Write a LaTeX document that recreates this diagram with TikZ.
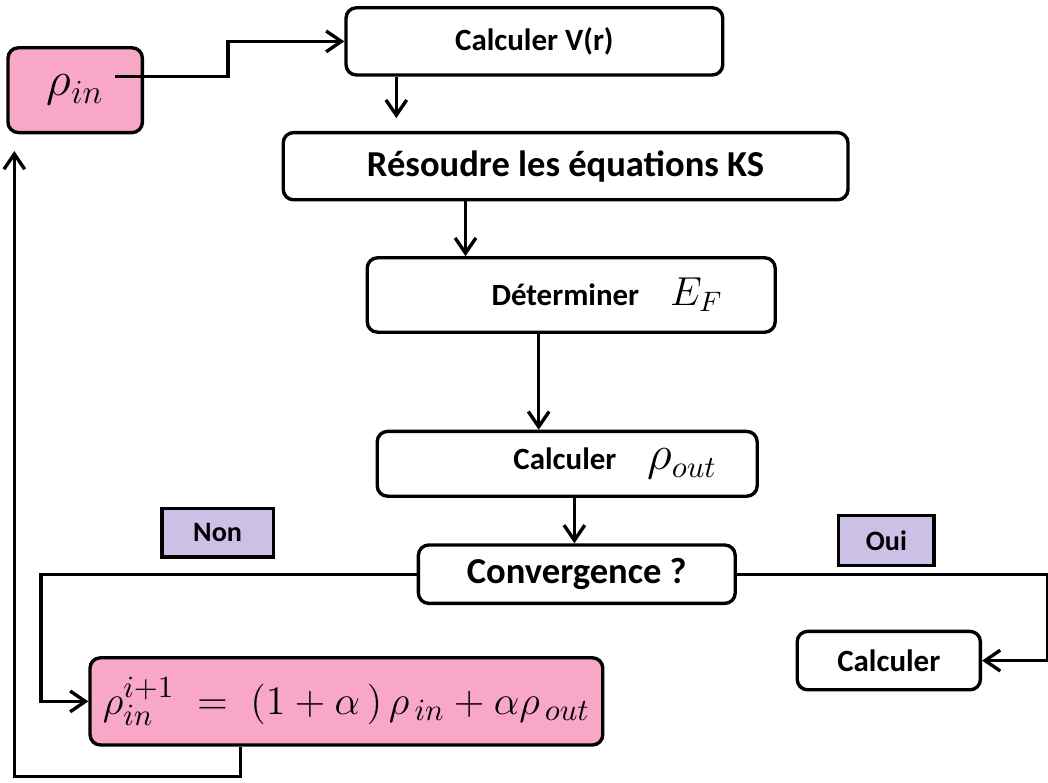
\documentclass[tikz,border=0pt]{standalone}
\usepackage{fontspec}
\setmainfont{Carlito}
\usetikzlibrary{arrows.meta}
\definecolor{pinkfill}{RGB}{248,168,198}
\definecolor{lilac}{RGB}{204,192,230}
\tikzset{
    process/.style = {rectangle, rounded corners=0.13cm, draw=black, line width=1.2pt, fill=white, text centered, inner sep=0pt, font=\bfseries\fontsize{11}{13}\selectfont},
    formula/.style = {process, fill=pinkfill, font=\fontsize{15}{18}\selectfont},
    answer/.style = {rectangle, draw=black, line width=1.2pt, fill=lilac, inner sep=0pt, font=\bfseries\fontsize{10}{12}\selectfont},
    arrow/.style = {line width=1.2pt, -{Straight Barb[length=1.9mm, width=2.6mm]}}
}

\begin{document}
\begin{tikzpicture}
    \useasboundingbox (0, 0) rectangle (13.1, 9.7875);

    \node (rhoin) [formula, minimum width=1.68cm, minimum height=1.06cm, font=\fontsize{17}{20}\selectfont] at (0.94, 8.66) {$\rho_{in}$};
    \node (calcv) [process, minimum width=4.71cm, minimum height=0.84cm] at (6.68, 9.27) {Calculer V(r)};
    \node (resoudre) [process, minimum width=7.06cm, minimum height=0.84cm, font=\bfseries\fontsize{13}{15}\selectfont] at (7.07, 7.71) {Résoudre les équations KS};
    \node (determiner) [process, minimum width=5.10cm, minimum height=0.93cm] at (7.14, 6.10) {\hspace*{0.9cm}Déterminer\quad {\fontsize{14}{16}\selectfont $E_F$}};
    \node (calcrho) [process, minimum width=4.75cm, minimum height=0.81cm] at (7.09, 3.99) {\hspace*{1.2cm}Calculer\quad {\fontsize{16}{18}\selectfont $\rho_{out}$}};
    \node (converg) [process, minimum width=3.96cm, minimum height=0.73cm, font=\bfseries\fontsize{13}{15}\selectfont] at (7.21, 2.61) {Convergence ?};
    \node (calcfin) [process, minimum width=2.29cm, minimum height=0.73cm] at (11.11, 1.53) {Calculer};
    \node (mixing) [formula, minimum width=6.41cm, minimum height=1.09cm] at (4.33, 1.02) {$\rho_{in}^{i+1} \;=\; \bigl(1+\alpha\,\bigr)\,\rho_{\,in} + \alpha\rho_{\,out}$};

    \node (non) [answer, minimum width=1.39cm, minimum height=0.61cm] at (2.72, 3.13) {Non};
    \node (oui) [answer, minimum width=1.19cm, minimum height=0.63cm] at (11.08, 3.03) {Oui};

    \draw [arrow] ([xshift=-0.36cm, yshift=0.17cm]rhoin.east) -| (2.85, 9.27) -- (calcv.west);
    \draw [arrow, shorten >=0.16cm] ([xshift=0.65cm]calcv.south west) -- ([xshift=0.65cm]calcv.south west |- resoudre.north);
    \draw [arrow] ([xshift=1.25cm]determiner.north west |- resoudre.south) -- ([xshift=1.25cm]determiner.north west);
    \draw [arrow] ([xshift=2.04cm]calcrho.north west |- determiner.south) -- ([xshift=2.04cm]calcrho.north west);
    \draw [arrow] ([xshift=0.09cm]calcrho.south) -- ([xshift=0.09cm]calcrho.south |- converg.north);

    \draw [arrow] (converg.west) -| ([xshift=-0.59cm]mixing.west) -- (mixing.west);
    \draw [arrow] (converg.east) -| ([xshift=0.82cm]calcfin.east) -- (calcfin.east);

    \draw [arrow, shorten >=0.21cm] ([xshift=1.9cm]mixing.south west) -- ++(0, -0.375) -| ([xshift=0.1cm]rhoin.south west);
\end{tikzpicture}
\end{document}
